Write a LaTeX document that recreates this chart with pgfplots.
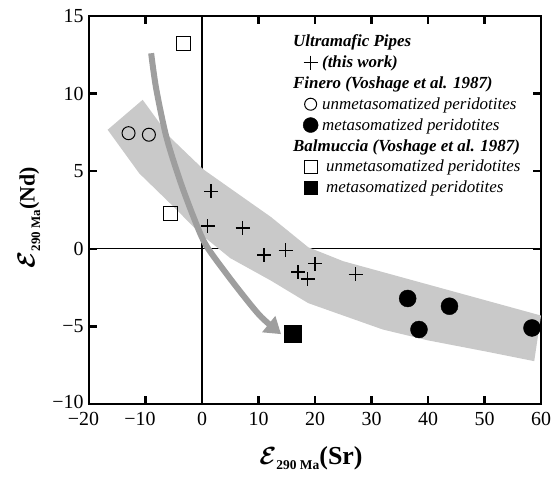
\documentclass[border=0pt]{standalone}
\usepackage{fontspec}
\setmainfont{Liberation Serif}
\usepackage{bm}
\usepackage{pgfplots}
\usepackage{pgfplotstable}
\pgfplotsset{compat=1.18}
\usetikzlibrary{arrows.meta}

% Ultramafic pipes (this work)
\pgfplotstableread{
x y
1.6 3.7
1.0 1.45
7.2 1.35
11.0 -0.4
14.8 -0.1
17.0 -1.5
20.0 -0.95
18.7 -1.95
27.2 -1.65
}\pipes
% Finero, unmetasomatized
\pgfplotstableread{
x y
-13.0 7.45
-9.4 7.35
}\fineroU
% Finero, metasomatized
\pgfplotstableread{
x y
36.4 -3.2
43.8 -3.7
38.4 -5.2
58.4 -5.1
}\fineroM
% Balmuccia, unmetasomatized
\pgfplotstableread{
x y
-3.3 13.2
-5.6 2.3
}\balmU
% Balmuccia, metasomatized
\pgfplotstableread{
x y
16.0 -5.45
}\balmM

% epsilon label: #1 epsilon size, #2 subscript size, #3 bracket size, #4 element
\newcommand{\epsl}[4]{{\fontsize{#1}{#1}\selectfont$\bm{\mathcal{E}}$}\raisebox{-5.5bp}{\fontsize{#2}{#2}\selectfont\bfseries 290 Ma}{\fontsize{#3}{#3}\selectfont\bfseries (#4)}}

\begin{document}
\begin{tikzpicture}
\begin{axis}[
  scale only axis,
  width=452bp, height=388bp,
  xmin=-20, xmax=60, ymin=-10, ymax=15,
  xtick={-20,-10,...,60},
  ytick={-10,-5,...,15},
  xticklabels={\llap{−}20,\llap{−}10,0,10,20,30,40,50,60},
  yticklabels={\raisebox{4bp}{−10},−5,0,5,10,15},
  tick align=inside,
  tick pos=both,
  tickwidth=8bp,
  tick style={black, line width=2.4bp},
  axis line style={line width=2bp},
  ticklabel style={font=\fontsize{20}{22}\selectfont},
  xticklabel style={yshift=-5bp},
  yticklabel style={xshift=-2bp},
  xlabel={\epsl{37}{13.5}{26}{Sr}},
  ylabel={\epsl{36}{13}{22}{Nd}},
  xlabel style={at={(rel axis cs:0.491,-0.139)}, anchor=center},
  ylabel style={at={(rel axis cs:-0.133,0.48)}, anchor=center},
  clip=false,
  legend style={
    at={(rel axis cs:0.4645,0.962)}, anchor=north west,
    draw=none, fill=none,
    font=\fontsize{17}{18}\selectfont\itshape,
    row sep=3.6bp,
    cells={anchor=west},
  },
]
% reference lines through the origin
\draw[line width=1.2bp] (axis cs:0,-10) -- (axis cs:0,15);
\draw[line width=1.2bp] (axis cs:-20,0) -- (axis cs:60,0);

% inward tick marks on all four sides (about 8bp long)
\pgfplotsinvokeforeach{-10,0,10,20,30,40,50}{
  \draw[line width=2.4bp] (axis cs:#1,-10) -- (axis cs:#1,-9.48);
  \draw[line width=2.4bp] (axis cs:#1,15) -- (axis cs:#1,14.48);
}
\pgfplotsinvokeforeach{-5,0,5,10}{
  \draw[line width=2.4bp] (axis cs:-20,#1) -- (axis cs:-18.58,#1);
  \draw[line width=2.4bp] (axis cs:60,#1) -- (axis cs:58.58,#1);
}

% mixing band
\addplot[draw=none, fill=black!21, forget plot] coordinates {
  (-16.7,7.67) (-10.5,9.6) (-5.7,7.2) (0.3,5.1) (6.3,3.56) (12.2,2.05)
  (18.8,0.1) (25,-0.8) (32,-1.5) (40,-2.3) (50,-3.3) (60,-4.3)
  (58.8,-7.24) (50,-6.6) (40,-5.9) (32,-5.2) (25,-4.3) (18.8,-3.5)
  (12.2,-2.05) (5,-0.6) (-0.3,0.97) (-5,2.7) (-11.1,4.86)
} -- cycle;

% evolution arrow
\addplot[smooth, draw=black!38, line width=6bp, forget plot,
  -{Triangle[length=16bp, width=20bp]}] coordinates {
  (-9.0,12.6) (-8.1,10.3) (-6.3,7.2) (-3.9,4.4) (-1.5,2.05)
  (0.6,0.3) (3.9,-1.4) (7.5,-3.1) (10.5,-4.4) (14.0,-5.5)
};

% data
\addplot[only marks, mark=+, mark size=7bp, line width=1.6bp, forget plot] table {\pipes};
\addplot[only marks, mark=o, mark size=6.5bp, line width=1bp, forget plot] table {\fineroU};
\addplot[only marks, mark=*, mark size=8.5bp, forget plot] table {\fineroM};
\addplot[only marks, mark=square, mark size=7bp, line width=1bp, mark options={fill=white}, forget plot] table {\balmU};
\addplot[only marks, mark=square*, mark size=8.5bp, forget plot] table {\balmM};

% legend
\addlegendimage{empty legend}
\addlegendentry{\hspace*{-27bp}\bfseries Ultramafic Pipes}
\addlegendimage{only marks, mark=+, mark size=7bp, line width=1.4bp}
\addlegendentry{\hspace*{2bp}\bfseries (this work)}
\addlegendimage{empty legend}
\addlegendentry{\hspace*{-27bp}\bfseries Finero (Voshage et al. 1987)}
\addlegendimage{only marks, mark=o, mark size=6bp, line width=1bp}
\addlegendentry{\hspace*{2bp}unmetasomatized peridotites}
\addlegendimage{only marks, mark=*, mark size=7.5bp}
\addlegendentry{\hspace*{2bp}metasomatized peridotites}
\addlegendimage{empty legend}
\addlegendentry{\hspace*{-27bp}\bfseries Balmuccia (Voshage et al. 1987)}
\addlegendimage{only marks, mark=square, mark size=6.5bp, line width=1bp}
\addlegendentry{\hspace*{6bp}unmetasomatized peridotites}
\addlegendimage{only marks, mark=square*, mark size=6.5bp}
\addlegendentry{\hspace*{6bp}metasomatized peridotites}
\end{axis}
\pgfresetboundingbox
\path ([shift={(-89bp,-72bp)}]current axis.south west) rectangle ([shift={(18bp,16bp)}]current axis.north east);
\end{tikzpicture}
\end{document}
